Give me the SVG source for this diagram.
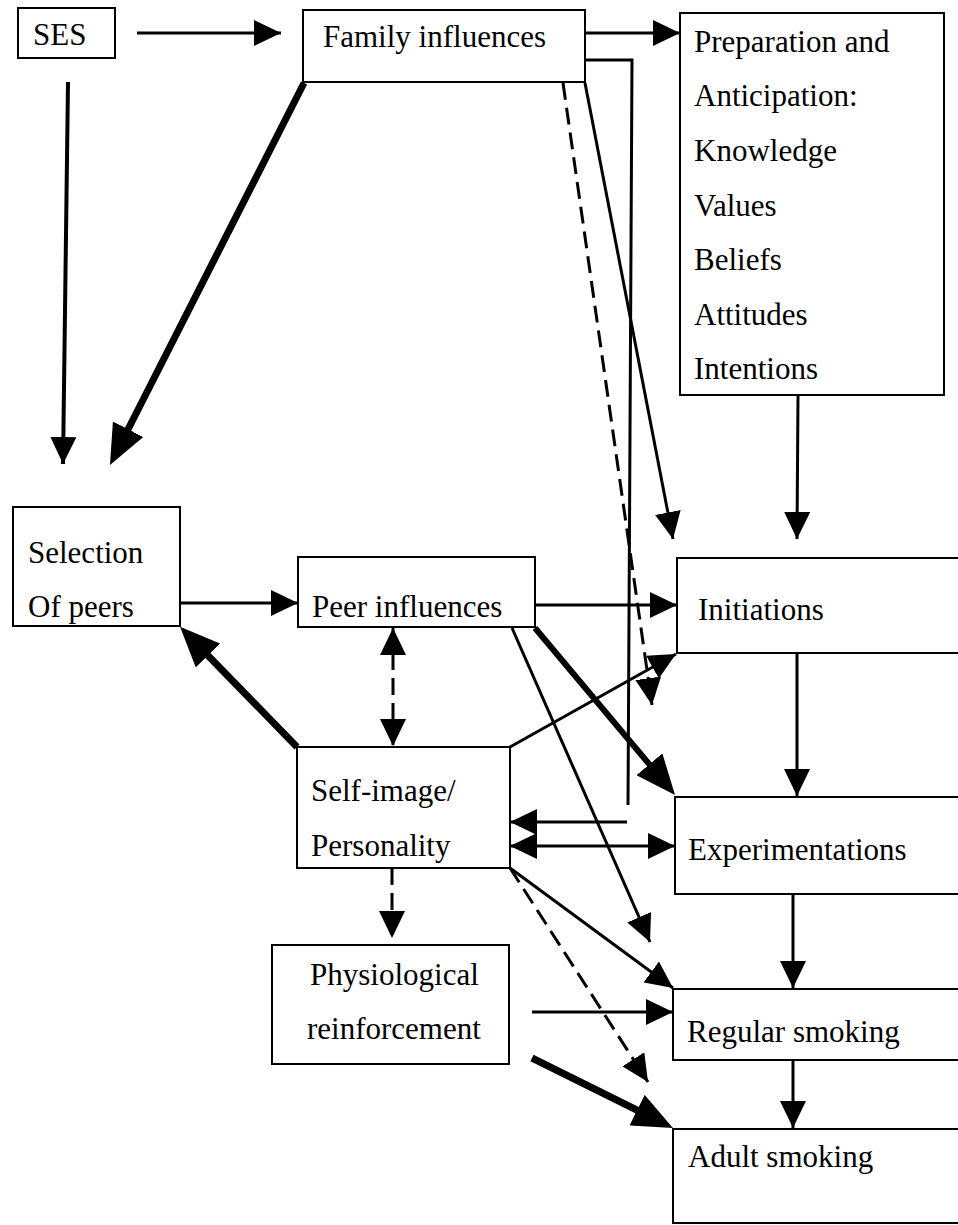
<svg xmlns="http://www.w3.org/2000/svg" width="958" height="1225" viewBox="0 0 958 1225">
<style>
  .box { fill: #fff; stroke: #000; stroke-width: 2; }
  .c { fill: none; stroke: #000; stroke-width: 3; }
  .thk { stroke-width: 7; }
  .dash { stroke-dasharray: 17 8; }
  .arr { marker-end: url(#ah); }
  .arrb { marker-end: url(#ahb); }
  .dbl { marker-start: url(#ahs); marker-end: url(#ah); }
</style>
<defs>
  <marker id="ah" markerUnits="userSpaceOnUse" markerWidth="27" markerHeight="26" refX="27" refY="13" orient="auto">
    <path d="M0,0 L27,13 L0,26 z" fill="#000" stroke="none"/>
  </marker>
  <marker id="ahs" markerUnits="userSpaceOnUse" markerWidth="27" markerHeight="26" refX="27" refY="13" orient="auto-start-reverse">
    <path d="M0,0 L27,13 L0,26 z" fill="#000" stroke="none"/>
  </marker>
  <marker id="ahb" markerUnits="userSpaceOnUse" markerWidth="40" markerHeight="34" refX="30" refY="17" orient="auto">
    <path d="M0,0 L40,17 L0,34 z" fill="#000" stroke="none"/>
  </marker>
</defs>
<rect width="958" height="1225" fill="#fff"/>

<g id="nodes" font-family="'Liberation Serif', 'Times New Roman', 'DejaVu Serif', serif" font-size="31" fill="#000">
<g id="ses">
  <rect class="box" x="18" y="8" width="97" height="50"/>
  <text x="33" y="45" fill="#000">SES</text>
</g>
<g id="family">
  <rect class="box" x="303" y="10" width="282" height="72"/>
  <text x="323" y="47" fill="#000">Family influences</text>
</g>
<g id="preparation">
  <rect class="box" x="680" y="13" width="264" height="382"/>
  <text x="694" y="52" fill="#000">Preparation and</text>
  <text x="694" y="106" fill="#000">Anticipation:</text>
  <text x="694" y="161" fill="#000">Knowledge</text>
  <text x="694" y="216" fill="#000">Values</text>
  <text x="694" y="270" fill="#000">Beliefs</text>
  <text x="694" y="325" fill="#000">Attitudes</text>
  <text x="694" y="379" fill="#000">Intentions</text>
</g>
<g id="selection">
  <rect class="box" x="13" y="507" width="167" height="119"/>
  <text x="28" y="563" fill="#000">Selection</text>
  <text x="28" y="617" fill="#000">Of peers</text>
</g>
<g id="peer">
  <rect class="box" x="298" y="557" width="237" height="70"/>
  <text x="312" y="617" fill="#000">Peer influences</text>
</g>
<g id="initiations">
  <rect class="box" x="677" y="558" width="300" height="95"/>
  <text x="698" y="620" fill="#000">Initiations</text>
</g>
<g id="selfimage">
  <rect class="box" x="297" y="747" width="213" height="121"/>
  <text x="311" y="801" fill="#000">Self-image/</text>
  <text x="311" y="856" fill="#000">Personality</text>
</g>
<g id="experimentations">
  <rect class="box" x="675" y="797" width="300" height="97"/>
  <text x="688" y="860" fill="#000">Experimentations</text>
</g>
<g id="physiological">
  <rect class="box" x="272" y="945" width="237" height="119"/>
  <text x="310" y="985" fill="#000">Physiological</text>
  <text x="307" y="1039" fill="#000">reinforcement</text>
</g>
<g id="regular">
  <rect class="box" x="673" y="989" width="300" height="71"/>
  <text x="687" y="1042" fill="#000">Regular smoking</text>
</g>
<g id="adult">
  <rect class="box" x="673" y="1129" width="300" height="94"/>
  <text x="688" y="1167" fill="#000">Adult smoking</text>
</g>
</g>

<g id="connectors">
  <path class="c arr" d="M137,33 L281,33"/>
  <path class="c arr" style="stroke-width:4" d="M68,82 L63,464"/>
  <path class="c thk arrb" d="M304,83 L114.5,456"/>
  <path class="c arr" d="M585,33 L680,33"/>
  <path class="c" d="M585,60 L632,60 L628,805"/>
  <path class="c arr" d="M627,822 L510,822"/>
  <path class="c arr" d="M585,83 L673,539"/>
  <path class="c dash arr" d="M563,83 L652,705"/>
  <path class="c arr" d="M798,395 L797,539"/>
  <path class="c arr" d="M180,603 L298,603"/>
  <path class="c arr" d="M535,605 L677,605"/>
  <path class="c dash dbl" d="M393,628 L393,746"/>
  <path class="c thk arrb" d="M297,747 L187,634"/>
  <path class="c arr" d="M510,747 L676,654"/>
  <path class="c thk arrb" style="stroke-width:6" d="M535,628 L668.6,787.3"/>
  <path class="c arr" d="M512,628 L650,942"/>
  <path class="c dbl" d="M510,846 L675,846"/>
  <path class="c arr" d="M510,868 L673,988"/>
  <path class="c dash arr" d="M510,868 L648,1082"/>
  <path class="c dash arr" d="M392,868 L392,938"/>
  <path class="c arr" d="M797,653 L797,796"/>
  <path class="c arr" d="M793,894 L793,988"/>
  <path class="c arr" d="M793,1060 L793,1128"/>
  <path class="c arr" d="M532,1012 L673,1012"/>
  <path class="c thk arrb" d="M532,1058 L664,1123.5"/>
</g>
</svg>
